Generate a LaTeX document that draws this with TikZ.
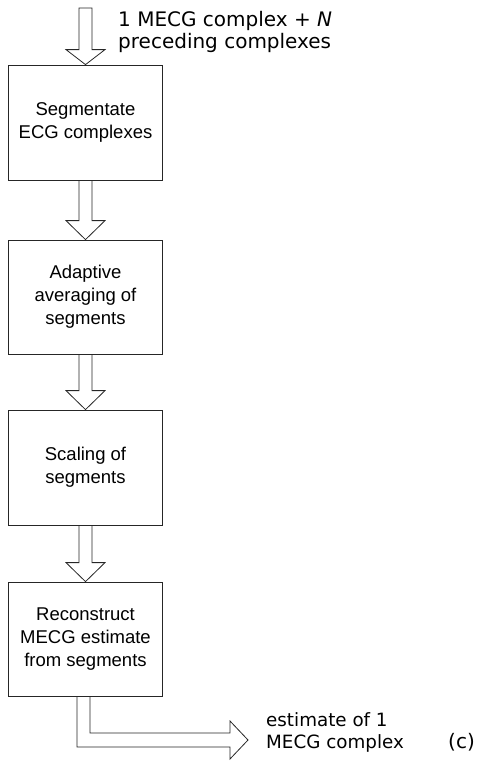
\documentclass[tikz,border=0pt]{standalone}
\usepackage{fontspec}
\setmainfont{Liberation Sans}
\newfontfamily\labelfont{DejaVu Sans}
\usetikzlibrary{calc}

% fat hollow arrow from the bottom of one stage box to the top of the next
\newcommand{\fatdown}[2]{%
  \draw[fat] ($(#1.south)+(-6.5,0)$) -- ($(#2.north)+(-6.5,-19)$)
    -- ($(#2.north)+(-19.5,-19)$) -- (#2.north) -- ($(#2.north)+(19.5,-19)$)
    -- ($(#2.north)+(6.5,-19)$) -- ($(#1.south)+(6.5,0)$);}

\begin{document}
\begin{tikzpicture}[x=1pt,y=-1pt,
  stage/.style={draw=black!85, line width=0.8pt, rectangle,
    minimum width=154pt, minimum height=115pt, inner sep=0pt, align=center,
    font=\fontsize{18.5}{23}\selectfont},
  fat/.style={draw=black!85, line width=0.8pt, line join=miter},
  caption/.style={font=\labelfont\fontsize{20}{22}\selectfont,
    align=left, inner sep=0pt}]
\useasboundingbox (0,0) rectangle (490,766);

% processing stages
\node[stage] (seg) at (85.5,122.5) {Segmentate\\ECG complexes};
\node[stage, minimum height=114pt] (avg) at (85.5,297) {Adaptive\\averaging of\\segments};
\node[stage] (scl) at (85.5,467.5) {Scaling of\\segments};
\node[stage, minimum height=114pt] (rec) at (85.5,639) {Reconstruct\\MECG estimate\\from segments};

% input arrow
\coordinate (in) at (85.5,8);
\draw[fat] ($(in)+(-6.5,0)$) -- ($(seg.north)+(-6.5,-15)$)
  -- ($(seg.north)+(-19.5,-15)$) -- (seg.north) -- ($(seg.north)+(19.5,-15)$)
  -- ($(seg.north)+(6.5,-15)$) -- ($(in)+(6.5,0)$) -- cycle;
\node[caption, anchor=north west] (inlabel) at (118,11)
  {1 MECG complex + \textit{N}\\preceding complexes};

% arrows between stages
\fatdown{seg}{avg}
\fatdown{avg}{scl}
\fatdown{scl}{rec}

% output arrow
\coordinate (out) at (248,740);
\draw[fat] ($(rec.south)+(-8.5,0)$) |- ($(out)+(-18,7)$) -- ($(out)+(-18,19)$)
  -- (out) -- ($(out)+(-18,-19)$) -- ($(out)+(-18,-7)$) -| ($(rec.south)+(4.5,0)$);
\node[caption, font=\labelfont\fontsize{18.3}{22}\selectfont, anchor=north west]
  (outlabel) at (266,712) {estimate of 1\\MECG complex};
\node[caption, font=\labelfont\fontsize{20}{22}\selectfont, anchor=base west]
  (tag) at (448,748) {(c)};
\end{tikzpicture}
\end{document}
